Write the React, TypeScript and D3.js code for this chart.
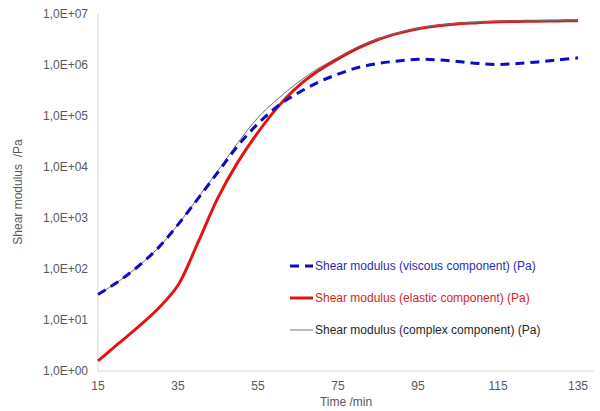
import React from "react";
import * as d3 from "d3";

const times = [15, 20, 25, 30, 35, 40, 45, 50, 55, 60, 65, 70, 75, 80, 85, 90, 95, 100, 105, 110, 115, 120, 125, 130, 135];

const viscous = [31.6, 56.2, 112, 257, 741, 2400, 7940, 26300, 70800, 158000, 282000, 457000, 661000, 891000, 1070000, 1200000, 1290000, 1260000, 1170000, 1070000, 1020000, 1070000, 1150000, 1260000, 1380000];

const elastic = [1.58, 3.39, 7.24, 16.6, 47.9, 331, 2510, 12600, 47900, 151000, 380000, 759000, 1320000, 2140000, 3160000, 4170000, 5130000, 5890000, 6460000, 6760000, 7080000, 7160000, 7240000, 7330000, 7410000];

const complex = [31.6, 56.2, 112, 257, 741, 2510, 8510, 30200, 93300, 219000, 457000, 851000, 1410000, 2290000, 3240000, 4270000, 5250000, 6030000, 6610000, 6920000, 7240000, 7330000, 7410000, 7500000, 7590000];

const xTicks = [15, 35, 55, 75, 95, 115, 135];
const yTicks = [1, 10, 100, 1000, 10000, 100000, 1000000, 10000000];
const yTickLabels = ["1,0E+00", "1,0E+01", "1,0E+02", "1,0E+03", "1,0E+04", "1,0E+05", "1,0E+06", "1,0E+07"];

const seriesNames = [
  "Shear modulus (viscous component) (Pa)",
  "Shear modulus (elastic component) (Pa)",
  "Shear modulus (complex component) (Pa)",
];

export default function App() {
  const W = 600, H = 411;
  const left = 98, right = 594, top = 14, bottom = 371;
  const x = d3.scaleLinear().domain([15, 139]).range([left, right]);
  const y = d3.scaleLog().domain([1, 1e7]).range([bottom, top]);

  const mk = (vals: number[]) =>
    d3
      .line<number>()
      .x((_, i) => x(times[i]))
      .y((v) => y(v))
      .curve(d3.curveCatmullRom.alpha(0.5))(vals) || "";

  const font = "'Liberation Sans', Arial, sans-serif";
  const tickColor = "#595959";

  const legend = [
    { name: seriesNames[0], color: "#0b0bc8", text: "#2b2bb5", width: 3, dash: "9,6" },
    { name: seriesNames[1], color: "#e31414", text: "#d92323", width: 3, dash: "" },
    { name: seriesNames[2], color: "#8c8c8c", text: "#262626", width: 1.2, dash: "" },
  ];

  return (
    <svg width={W} height={H} style={{ position: "absolute", left: 0, top: 0, background: "#fff" }} fontFamily={font}>
      <rect width={W} height={H} fill="#fff" />
      <line x1={left} x2={left} y1={top} y2={bottom} stroke="#d9d9d9" strokeWidth={1} />
      <line x1={left} x2={right} y1={bottom} y2={bottom} stroke="#d9d9d9" strokeWidth={1} />
      {yTicks.map((t, i) => (
        <text key={t} x={88} y={y(t)} dy="0.35em" textAnchor="end" fontSize={12} fill={tickColor}>
          {yTickLabels[i]}
        </text>
      ))}
      {xTicks.map((t) => (
        <text key={t} x={x(t)} y={390} textAnchor="middle" fontSize={12} fill={tickColor}>
          {t}
        </text>
      ))}
      <text x={346} y={406} textAnchor="middle" fontSize={12} fill={tickColor}>
        Time /min
      </text>
      <text transform={`translate(22,${192}) rotate(-90)`} textAnchor="middle" fontSize={12} fill={tickColor} style={{ whiteSpace: "pre" }}>
        {"Shear modulus  /Pa"}
      </text>
      <path d={mk(elastic)} fill="none" stroke="#e31414" strokeWidth={3} strokeLinejoin="round" />
      <path d={mk(complex)} fill="none" stroke="#6f6f6f" strokeWidth={1} />
      <path d={mk(viscous)} fill="none" stroke="#0b0bc8" strokeWidth={3} strokeDasharray="9,6" />
      {legend.map((l, i) => {
        const ly = 266 + i * 32;
        return (
          <g key={l.name}>
            <line x1={290} x2={313} y1={ly} y2={ly} stroke={l.color} strokeWidth={l.width} strokeDasharray={l.dash || undefined} />
            <text x={315} y={ly} dy="0.35em" fontSize={12} fill={l.text}>
              {l.name}
            </text>
          </g>
        );
      })}
    </svg>
  );
}
